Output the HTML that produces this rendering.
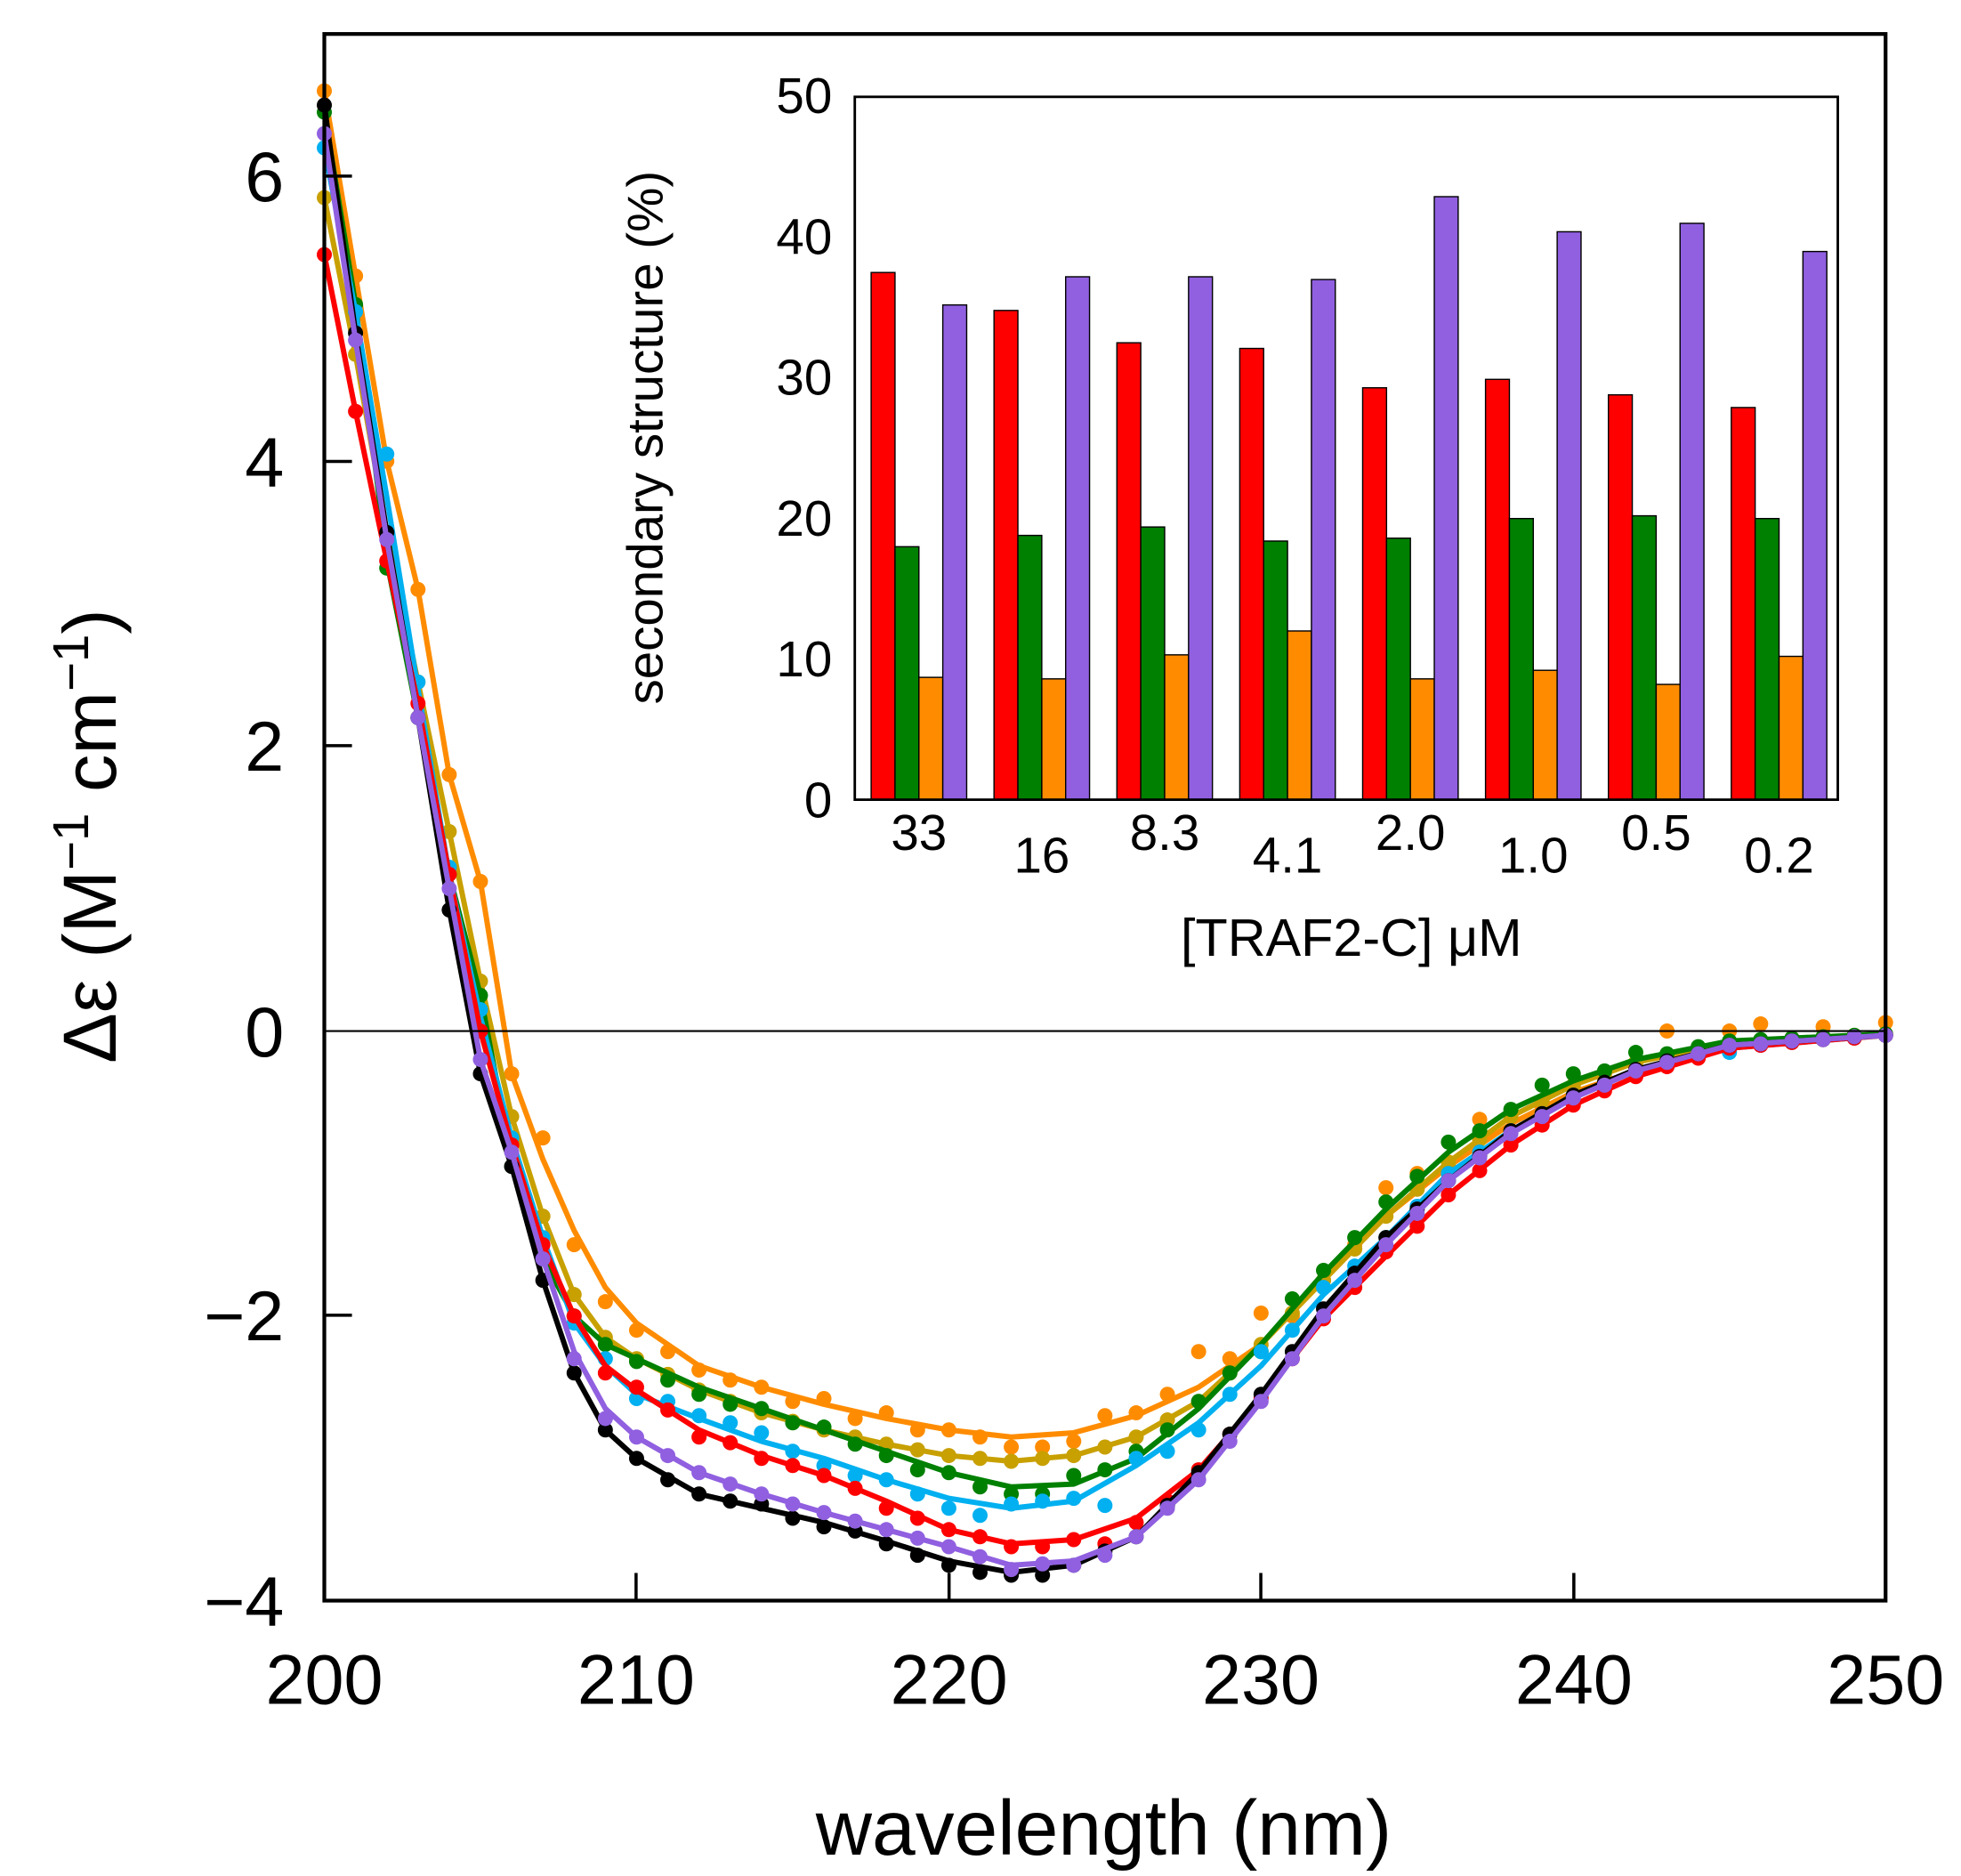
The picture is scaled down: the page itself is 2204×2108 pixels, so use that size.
<!DOCTYPE html>
<html><head><meta charset="utf-8"><style>html,body{margin:0;padding:0;background:#fff}svg{display:block}
.l{fill:none;stroke-width:6;stroke-linejoin:round;vector-effect:non-scaling-stroke}
.d{fill:none;stroke-width:17;stroke-linecap:round;vector-effect:non-scaling-stroke}
</style></head>
<body>
<svg width="2204" height="2108" viewBox="0 0 1560 1492" xmlns="http://www.w3.org/2000/svg" font-family="Liberation Sans, sans-serif">
<rect width="1560" height="1492" fill="#fff"/>
<g transform="translate(258,820) scale(24.84,-113.3)">
<g stroke="#ff8c00">
<polyline class="l" points="0,6.6 1,5.3 2,4.0 3,3.1 4,1.8 5,1.05 6,-0.3 7,-0.9 8,-1.4 9,-1.8 10,-2.05 12,-2.35 14,-2.5 16,-2.62 18,-2.72 20,-2.8 22,-2.85 24,-2.82 26,-2.7 28,-2.5 30,-2.2 32,-1.75 34,-1.3 36,-0.95 38,-0.65 40,-0.43 42,-0.28 45,-0.1 50,-0.02"/>
<path class="d" d="M0,6.6h0M1,5.3h0M2,4.0h0M3,3.1h0M4,1.8h0M5,1.05h0M6,-0.3h0M7,-0.75h0M8,-1.5h0M9,-1.9h0M10,-2.1h0M11,-2.25h0M12,-2.38h0M13,-2.45h0M14,-2.5h0M15,-2.6h0M16,-2.58h0M17,-2.72h0M18,-2.68h0M19,-2.8h0M20,-2.8h0M21,-2.85h0M22,-2.92h0M23,-2.92h0M24,-2.88h0M25,-2.7h0M26,-2.68h0M27,-2.55h0M28,-2.25h0M29,-2.3h0M30,-1.98h0M31,-2.0h0M32,-1.75h0M33,-1.5h0M34,-1.1h0M35,-1.0h0M36,-0.95h0M37,-0.62h0M38,-0.6h0M39,-0.54h0M40,-0.4h0M41,-0.36h0M42,-0.25h0M43,0.0h0M44,-0.16h0M45,0.0h0M46,0.05h0M47,-0.07h0M48,0.03h0M49,-0.04h0M50,0.06h0"/>
</g>
<g stroke="#c8a000">
<polyline class="l" points="0,5.85 1,4.75 2,3.5 3,2.45 4,1.4 5,0.35 6,-0.6 7,-1.3 8,-1.85 9,-2.15 10,-2.3 12,-2.52 14,-2.68 16,-2.8 18,-2.9 20,-2.98 22,-3.02 24,-2.98 26,-2.85 28,-2.6 30,-2.2 32,-1.75 34,-1.3 36,-0.92 38,-0.6 40,-0.38 42,-0.22 45,-0.08 50,-0.02"/>
<path class="d" d="M0,5.85h0M1,4.75h0M2,3.5h0M3,2.45h0M4,1.4h0M5,0.35h0M6,-0.6h0M7,-1.3h0M8,-1.85h0M9,-2.15h0M10,-2.3h0M11,-2.41h0M12,-2.52h0M13,-2.6h0M14,-2.68h0M15,-2.74h0M16,-2.8h0M17,-2.85h0M18,-2.9h0M19,-2.94h0M20,-2.98h0M21,-3.0h0M22,-3.02h0M23,-3.0h0M24,-2.98h0M25,-2.92h0M26,-2.85h0M27,-2.73h0M28,-2.6h0M29,-2.4h0M30,-2.2h0M31,-1.98h0M32,-1.75h0M33,-1.53h0M34,-1.3h0M35,-1.11h0M36,-0.92h0M37,-0.76h0M38,-0.6h0M39,-0.49h0M40,-0.38h0M41,-0.3h0M42,-0.22h0M43,-0.17h0M44,-0.12h0M45,-0.08h0M46,-0.07h0M47,-0.05h0M48,-0.04h0M49,-0.03h0M50,-0.02h0"/>
</g>
<g stroke="#008000">
<polyline class="l" points="0,6.45 1,5.1 2,3.3 3,2.2 4,1.1 5,0.25 6,-0.9 7,-1.6 8,-2.0 9,-2.2 10,-2.3 12,-2.5 14,-2.65 16,-2.8 18,-2.95 20,-3.1 22,-3.2 24,-3.18 26,-3.0 28,-2.65 30,-2.2 32,-1.7 34,-1.25 36,-0.85 38,-0.55 40,-0.35 42,-0.2 45,-0.07 50,-0.02"/>
<path class="d" d="M0,6.45h0M1,5.1h0M2,3.25h0M3,2.2h0M4,1.1h0M5,0.25h0M6,-0.95h0M7,-1.6h0M8,-2.0h0M9,-2.2h0M10,-2.32h0M11,-2.45h0M12,-2.55h0M13,-2.62h0M14,-2.65h0M15,-2.75h0M16,-2.78h0M17,-2.9h0M18,-2.98h0M19,-3.08h0M20,-3.1h0M21,-3.2h0M22,-3.25h0M23,-3.25h0M24,-3.12h0M25,-3.08h0M26,-2.95h0M27,-2.8h0M28,-2.6h0M29,-2.4h0M30,-2.25h0M31,-1.88h0M32,-1.68h0M33,-1.45h0M34,-1.2h0M35,-1.02h0M36,-0.78h0M37,-0.7h0M38,-0.55h0M39,-0.38h0M40,-0.3h0M41,-0.28h0M42,-0.15h0M43,-0.16h0M44,-0.11h0M45,-0.07h0M46,-0.06h0M47,-0.05h0M48,-0.04h0M49,-0.03h0M50,-0.02h0"/>
</g>
<g stroke="#00b0f0">
<polyline class="l" points="0,6.2 1,5.05 2,3.75 3,2.4 4,1.1 5,0.1 6,-0.75 7,-1.45 8,-2.05 9,-2.35 10,-2.55 12,-2.72 14,-2.88 16,-3.0 18,-3.15 20,-3.28 22,-3.35 24,-3.3 26,-3.05 28,-2.75 30,-2.35 32,-1.85 34,-1.45 36,-1.0 38,-0.7 40,-0.45 42,-0.28 45,-0.12 50,-0.03"/>
<path class="d" d="M0,6.2h0M1,5.05h0M2,4.05h0M3,2.45h0M4,1.15h0M5,0.15h0M6,-0.75h0M7,-1.45h0M8,-2.05h0M9,-2.3h0M10,-2.58h0M11,-2.6h0M12,-2.7h0M13,-2.75h0M14,-2.82h0M15,-2.95h0M16,-3.05h0M17,-3.12h0M18,-3.15h0M19,-3.25h0M20,-3.35h0M21,-3.4h0M22,-3.32h0M23,-3.3h0M24,-3.28h0M25,-3.33h0M26,-3.0h0M27,-2.95h0M28,-2.8h0M29,-2.55h0M30,-2.25h0M31,-2.1h0M32,-1.8h0M33,-1.65h0M34,-1.45h0M35,-1.23h0M36,-1.0h0M37,-0.85h0M38,-0.7h0M39,-0.58h0M40,-0.45h0M41,-0.37h0M42,-0.28h0M43,-0.23h0M44,-0.17h0M45,-0.15h0M46,-0.1h0M47,-0.08h0M48,-0.06h0M49,-0.05h0M50,-0.03h0"/>
</g>
<g stroke="#ff0000">
<polyline class="l" points="0,5.45 1,4.35 2,3.3 3,2.3 4,1.1 5,0.0 6,-0.8 7,-1.5 8,-2.0 9,-2.35 10,-2.52 12,-2.8 14,-2.98 16,-3.12 18,-3.3 20,-3.5 22,-3.6 24,-3.57 26,-3.42 28,-3.08 30,-2.58 32,-2.02 34,-1.58 36,-1.15 38,-0.8 40,-0.52 42,-0.32 45,-0.12 50,-0.03"/>
<path class="d" d="M0,5.45h0M1,4.35h0M2,3.3h0M3,2.3h0M4,1.1h0M5,0.0h0M6,-0.8h0M7,-1.5h0M8,-2.0h0M9,-2.4h0M10,-2.5h0M11,-2.66h0M12,-2.85h0M13,-2.89h0M14,-3.0h0M15,-3.05h0M16,-3.12h0M17,-3.21h0M18,-3.35h0M19,-3.42h0M20,-3.5h0M21,-3.55h0M22,-3.62h0M23,-3.62h0M24,-3.57h0M25,-3.6h0M26,-3.45h0M27,-3.3h0M28,-3.08h0M29,-2.83h0M30,-2.58h0M31,-2.3h0M32,-2.02h0M33,-1.8h0M34,-1.55h0M35,-1.37h0M36,-1.15h0M37,-0.98h0M38,-0.8h0M39,-0.66h0M40,-0.52h0M41,-0.42h0M42,-0.32h0M43,-0.25h0M44,-0.19h0M45,-0.12h0M46,-0.1h0M47,-0.08h0M48,-0.06h0M49,-0.05h0M50,-0.03h0"/>
</g>
<g stroke="#000000">
<polyline class="l" points="0,6.5 1,4.9 2,3.5 3,2.2 4,0.85 5,-0.3 6,-0.95 7,-1.75 8,-2.4 9,-2.8 10,-3.0 12,-3.25 14,-3.35 16,-3.45 18,-3.58 20,-3.72 22,-3.8 24,-3.75 26,-3.55 28,-3.1 30,-2.55 32,-1.95 34,-1.45 36,-1.05 38,-0.7 40,-0.45 42,-0.27 45,-0.1 50,-0.03"/>
<path class="d" d="M0,6.5h0M1,4.9h0M2,3.5h0M3,2.2h0M4,0.85h0M5,-0.3h0M6,-0.95h0M7,-1.75h0M8,-2.4h0M9,-2.8h0M10,-3.0h0M11,-3.15h0M12,-3.25h0M13,-3.3h0M14,-3.32h0M15,-3.42h0M16,-3.48h0M17,-3.51h0M18,-3.6h0M19,-3.68h0M20,-3.75h0M21,-3.8h0M22,-3.82h0M23,-3.82h0M24,-3.75h0M25,-3.65h0M26,-3.55h0M27,-3.33h0M28,-3.1h0M29,-2.83h0M30,-2.55h0M31,-2.25h0M32,-1.95h0M33,-1.7h0M34,-1.45h0M35,-1.25h0M36,-1.05h0M37,-0.88h0M38,-0.7h0M39,-0.58h0M40,-0.45h0M41,-0.36h0M42,-0.27h0M43,-0.21h0M44,-0.16h0M45,-0.1h0M46,-0.09h0M47,-0.07h0M48,-0.06h0M49,-0.04h0M50,-0.03h0"/>
</g>
<g stroke="#9060e0">
<polyline class="l" points="0,6.3 1,4.85 2,3.45 3,2.2 4,1.0 5,-0.2 6,-0.85 7,-1.6 8,-2.25 9,-2.65 10,-2.85 12,-3.1 14,-3.25 16,-3.38 18,-3.5 20,-3.62 22,-3.75 24,-3.72 26,-3.55 28,-3.15 30,-2.6 32,-2.0 34,-1.5 36,-1.05 38,-0.72 40,-0.47 42,-0.28 45,-0.1 50,-0.03"/>
<path class="d" d="M0,6.3h0M1,4.85h0M2,3.45h0M3,2.2h0M4,1.0h0M5,-0.2h0M6,-0.85h0M7,-1.6h0M8,-2.3h0M9,-2.72h0M10,-2.85h0M11,-2.98h0M12,-3.1h0M13,-3.18h0M14,-3.25h0M15,-3.32h0M16,-3.38h0M17,-3.44h0M18,-3.5h0M19,-3.56h0M20,-3.62h0M21,-3.69h0M22,-3.78h0M23,-3.74h0M24,-3.75h0M25,-3.68h0M26,-3.55h0M27,-3.35h0M28,-3.15h0M29,-2.88h0M30,-2.6h0M31,-2.3h0M32,-2.0h0M33,-1.75h0M34,-1.5h0M35,-1.28h0M36,-1.05h0M37,-0.89h0M38,-0.72h0M39,-0.6h0M40,-0.47h0M41,-0.38h0M42,-0.28h0M43,-0.22h0M44,-0.16h0M45,-0.1h0M46,-0.09h0M47,-0.07h0M48,-0.06h0M49,-0.04h0M50,-0.03h0"/>
</g>
</g>
<line x1="258" y1="820" x2="1500" y2="820" stroke="#000" stroke-width="1.5"/>
<rect x="258" y="27" width="1242" height="1246" fill="none" stroke="#000" stroke-width="3"/>
<g stroke="#000" stroke-width="2.5">
<line x1="258" y1="140" x2="280" y2="140"/><line x1="258" y1="367" x2="280" y2="367"/><line x1="258" y1="593" x2="280" y2="593"/><line x1="258" y1="1046" x2="280" y2="1046"/>
<line x1="506" y1="1273" x2="506" y2="1251"/><line x1="755" y1="1273" x2="755" y2="1251"/><line x1="1003" y1="1273" x2="1003" y2="1251"/><line x1="1252" y1="1273" x2="1252" y2="1251"/>
</g>
<g font-size="56" text-anchor="end" fill="#000">
<text x="226" y="160">6</text><text x="226" y="387">4</text><text x="226" y="613">2</text><text x="226" y="840">0</text><text x="226" y="1066">−2</text><text x="226" y="1293">−4</text>
</g>
<g font-size="56" text-anchor="middle" fill="#000">
<text x="258" y="1355">200</text><text x="506" y="1355">210</text><text x="755" y="1355">220</text><text x="1003" y="1355">230</text><text x="1252" y="1355">240</text><text x="1500" y="1355">250</text>
</g>
<text x="878" y="1475" font-size="62" text-anchor="middle">wavelength (nm)</text>
<text transform="translate(92,665) rotate(-90)" font-size="60" text-anchor="middle">Δε (M<tspan baseline-shift="super" font-size="40">−1</tspan> cm<tspan baseline-shift="super" font-size="40">−1</tspan>)</text>
<rect x="680" y="77" width="782" height="559" fill="#fff"/>
<g stroke="#000" stroke-width="1">
<g fill="#ff0000">
<rect x="693" y="216.7" width="19" height="419.3"/><rect x="790.75" y="246.9" width="19" height="389.1"/><rect x="888.5" y="272.6" width="19" height="363.4"/><rect x="986.25" y="277.1" width="19" height="358.9"/><rect x="1084" y="308.4" width="19" height="327.6"/><rect x="1181.75" y="301.7" width="19" height="334.3"/><rect x="1279.5" y="314" width="19" height="322"/><rect x="1377.25" y="324.1" width="19" height="311.9"/>
</g>
<g fill="#008000">
<rect x="712" y="434.8" width="19" height="201.2"/><rect x="809.75" y="425.8" width="19" height="210.2"/><rect x="907.5" y="419.1" width="19" height="216.9"/><rect x="1005.25" y="430.3" width="19" height="205.7"/><rect x="1103" y="428" width="19" height="208"/><rect x="1200.75" y="412.4" width="19" height="223.6"/><rect x="1298.5" y="410.2" width="19" height="225.8"/><rect x="1396.25" y="412.4" width="19" height="223.6"/>
</g>
<g fill="#ff8c00">
<rect x="731" y="538.7" width="19" height="97.3"/><rect x="828.75" y="539.9" width="19" height="96.1"/><rect x="926.5" y="520.8" width="19" height="115.2"/><rect x="1024.25" y="501.8" width="19" height="134.2"/><rect x="1122" y="539.9" width="19" height="96.1"/><rect x="1219.75" y="533.1" width="19" height="102.9"/><rect x="1317.5" y="544.3" width="19" height="91.7"/><rect x="1415.25" y="522" width="19" height="114"/>
</g>
<g fill="#9060e0">
<rect x="750" y="242.5" width="19" height="393.5"/><rect x="847.75" y="220.1" width="19" height="415.9"/><rect x="945.5" y="220.1" width="19" height="415.9"/><rect x="1043.25" y="222.3" width="19" height="413.7"/><rect x="1141" y="156.4" width="19" height="479.6"/><rect x="1238.75" y="184.3" width="19" height="451.7"/><rect x="1336.5" y="177.6" width="19" height="458.4"/><rect x="1434.25" y="200" width="19" height="436"/>
</g>
</g>
<rect x="680" y="77" width="782" height="559" fill="none" stroke="#000" stroke-width="2"/>
<g font-size="40" text-anchor="end">
<text x="662" y="650">0</text><text x="662" y="538">10</text><text x="662" y="426">20</text><text x="662" y="314">30</text><text x="662" y="202">40</text><text x="662" y="90">50</text>
</g>
<g font-size="40" text-anchor="middle">
<text x="731" y="676">33</text><text x="828.75" y="694">16</text><text x="926.5" y="676">8.3</text><text x="1024.25" y="694">4.1</text><text x="1122" y="676">2.0</text><text x="1219.75" y="694">1.0</text><text x="1317.5" y="676">0.5</text><text x="1415.25" y="694">0.2</text>
</g>
<text transform="translate(527,348) rotate(-90)" font-size="40" text-anchor="middle">secondary structure (%)</text>
<text x="1075" y="760" font-size="42" text-anchor="middle">[TRAF2-C] μM</text>
</svg>
</body></html>
